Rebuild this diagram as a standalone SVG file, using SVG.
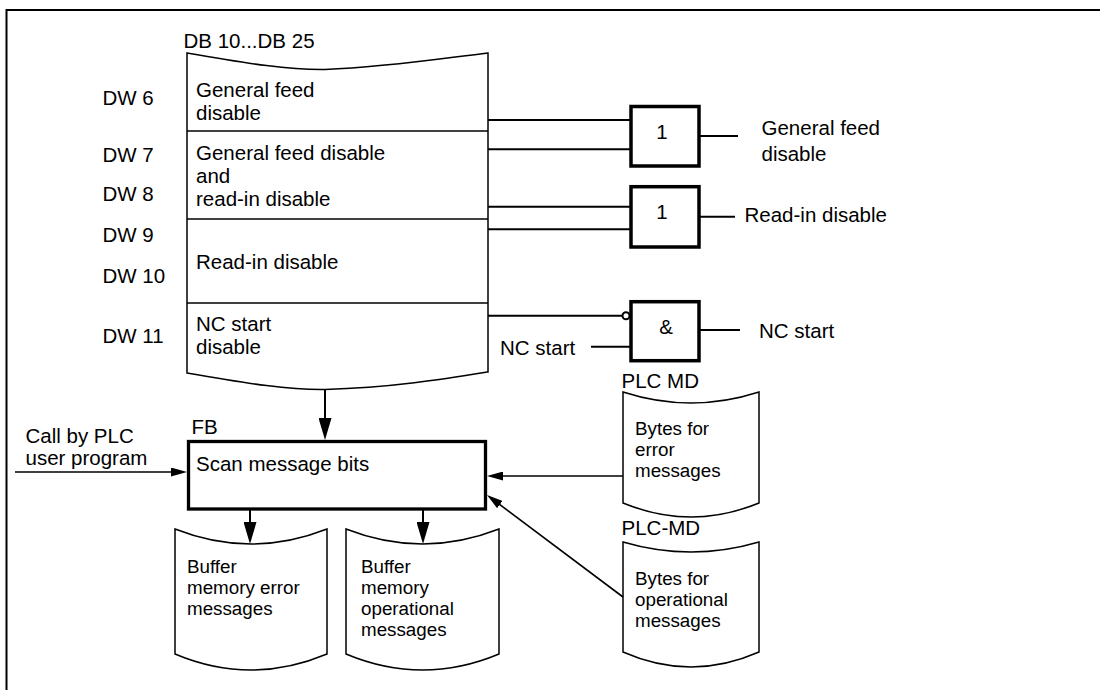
<svg xmlns="http://www.w3.org/2000/svg" width="1100" height="690" viewBox="0 0 1100 690">
  <style>
    text { font-family: "Liberation Sans", Arial, sans-serif; font-size: 20.5px; fill: #000; }
    .mid { text-anchor: middle; }
    .in-cyl { font-size: 18.8px; }
    .frame { fill: none; stroke: #000; stroke-width: 2; }
    .db { fill: #fff; stroke: #000; stroke-width: 1.5; }
    .sep { stroke: #000; stroke-width: 1.5; }
    .gate { fill: #fff; stroke: #000; stroke-width: 3.5; }
    .fb { fill: #fff; stroke: #000; stroke-width: 3.3; }
    .cyl { fill: #fff; stroke: #000; stroke-width: 1.5; }
    .wire { fill: none; stroke: #000; stroke-width: 2; }
    .flow { fill: none; stroke: #000; stroke-width: 2; }
    .thin { fill: none; stroke: #000; stroke-width: 1.6; }
  </style>
  <defs>
    <marker id="big" markerUnits="userSpaceOnUse" markerWidth="22" markerHeight="13" refX="18" refY="6.5" orient="auto">
      <path d="M0,0 L22,6.5 L0,13 Z" fill="#000"/>
    </marker>
    <marker id="small" markerUnits="userSpaceOnUse" markerWidth="16" markerHeight="9" refX="12" refY="4.5" orient="auto">
      <path d="M0,0 L16,4.5 L0,9 Z" fill="#000"/>
    </marker>
  </defs>

  <!-- page frame (continues past the right and bottom edges) -->
  <rect class="frame" x="6.5" y="10" width="1200" height="800"/>

  <!-- data block DB 10...DB 25 -->
  <g id="db">
    <text x="183.5" y="48">DB 10...DB 25</text>
    <path class="db" d="M187,53 C250,64 290,70 325,69.5 C390,67 445,58 488,53 L488,372 C445,379 390,388 325,389.5 C290,390 250,384 187,373 Z"/>
    <line class="sep" x1="187" y1="131" x2="488" y2="131"/>
    <line class="sep" x1="187" y1="219" x2="488" y2="219"/>
    <line class="sep" x1="187" y1="303" x2="488" y2="303"/>
    <text x="196" y="96.7">General feed</text>
    <text x="196" y="120">disable</text>
    <text x="196" y="160">General feed disable</text>
    <text x="196" y="182.7">and</text>
    <text x="196" y="206">read-in disable</text>
    <text x="196" y="268.7">Read-in disable</text>
    <text x="196" y="331">NC start</text>
    <text x="196" y="354.3">disable</text>
  </g>

  <!-- data word labels -->
  <g id="dw-labels">
    <text x="102.5" y="105">DW 6</text>
    <text x="102.5" y="161.7">DW 7</text>
    <text x="102.5" y="200.7">DW 8</text>
    <text x="102.5" y="242.3">DW 9</text>
    <text x="102.5" y="283.3">DW 10</text>
    <text x="102.5" y="343.3">DW 11</text>
  </g>

  <!-- OR gate: general feed disable -->
  <g id="gate-or-feed">
    <rect class="gate" x="631" y="106.5" width="68" height="59.5"/>
    <text class="mid" x="662" y="139.3">1</text>
    <text x="761.5" y="135">General feed</text>
    <text x="761.5" y="161">disable</text>
  </g>

  <!-- OR gate: read-in disable -->
  <g id="gate-or-readin">
    <rect class="gate" x="631" y="186.7" width="68" height="60.3"/>
    <text class="mid" x="662" y="219">1</text>
    <text x="744.5" y="222">Read-in disable</text>
  </g>

  <!-- AND gate: NC start -->
  <g id="gate-and-nc">
    <rect class="gate" x="631" y="301.7" width="68" height="59"/>
    <text class="mid" x="666" y="334">&amp;</text>
    <text x="759" y="338">NC start</text>
    <text x="500" y="355">NC start</text>
  </g>

  <!-- function block -->
  <g id="fb">
    <text x="191.5" y="434">FB</text>
    <rect class="fb" x="188.5" y="441.5" width="297" height="67.5"/>
    <text x="196" y="471">Scan message bits</text>
  </g>

  <g id="caller">
    <text x="25.5" y="443">Call by PLC</text>
    <text x="25.5" y="465">user program</text>
  </g>

  <!-- machine data for error messages -->
  <g id="plc-md-error">
    <text x="621.5" y="388">PLC MD</text>
    <path class="cyl" d="M623,392 Q691,414 759,392 L759,503 Q691,531 623,503 Z"/>
    <text class="in-cyl" x="635" y="435">Bytes for</text>
    <text class="in-cyl" x="635" y="456">error</text>
    <text class="in-cyl" x="635" y="477">messages</text>
  </g>

  <!-- machine data for operational messages -->
  <g id="plc-md-oper">
    <text x="621.5" y="535">PLC-MD</text>
    <path class="cyl" d="M623,542 Q691,562 759,542 L759,652 Q691,682 623,652 Z"/>
    <text class="in-cyl" x="635" y="585">Bytes for</text>
    <text class="in-cyl" x="635" y="606">operational</text>
    <text class="in-cyl" x="635" y="627">messages</text>
  </g>

  <!-- buffer memories -->
  <g id="buffer-error">
    <path class="cyl" d="M175,529 Q251,559 327,529 L327,654 Q251,686 175,654 Z"/>
    <text class="in-cyl" x="187" y="573">Buffer</text>
    <text class="in-cyl" x="187" y="594">memory error</text>
    <text class="in-cyl" x="187" y="615">messages</text>
  </g>
  <g id="buffer-oper">
    <path class="cyl" d="M346,529 Q422.5,559 499,529 L499,654 Q422.5,686 346,654 Z"/>
    <text class="in-cyl" x="361" y="573">Buffer</text>
    <text class="in-cyl" x="361" y="594">memory</text>
    <text class="in-cyl" x="361" y="615">operational</text>
    <text class="in-cyl" x="361" y="636">messages</text>
  </g>

  <!-- connectors -->
  <g id="connectors">
    <!-- gate inputs -->
    <line class="wire" x1="488" y1="120" x2="631" y2="120"/>
    <line class="wire" x1="488" y1="149.3" x2="631" y2="149.3"/>
    <line class="wire" x1="488" y1="206.7" x2="631" y2="206.7"/>
    <line class="wire" x1="488" y1="229.3" x2="631" y2="229.3"/>
    <line class="wire" x1="488" y1="315.7" x2="622.5" y2="315.7"/>
    <circle cx="626" cy="315.7" r="3.5" fill="#fff" stroke="#000" stroke-width="2"/>
    <line class="wire" x1="591" y1="346.7" x2="631" y2="346.7"/>
    <!-- gate outputs -->
    <line class="wire" x1="699" y1="136" x2="738" y2="136"/>
    <line class="wire" x1="699" y1="216.7" x2="735" y2="216.7"/>
    <line class="wire" x1="699" y1="330" x2="740" y2="330"/>
    <!-- data flow -->
    <line class="flow" x1="325" y1="389.5" x2="325" y2="436" marker-end="url(#big)"/>
    <line class="flow" x1="250" y1="510" x2="250" y2="540" marker-end="url(#big)"/>
    <line class="flow" x1="423" y1="510" x2="423" y2="540" marker-end="url(#big)"/>
    <line class="thin" x1="15" y1="472" x2="183" y2="472" marker-end="url(#small)"/>
    <line class="thin" x1="623" y1="476" x2="491" y2="476" marker-end="url(#small)"/>
    <line class="thin" x1="623" y1="597" x2="490.2" y2="497.4" marker-end="url(#small)"/>
  </g>
</svg>
